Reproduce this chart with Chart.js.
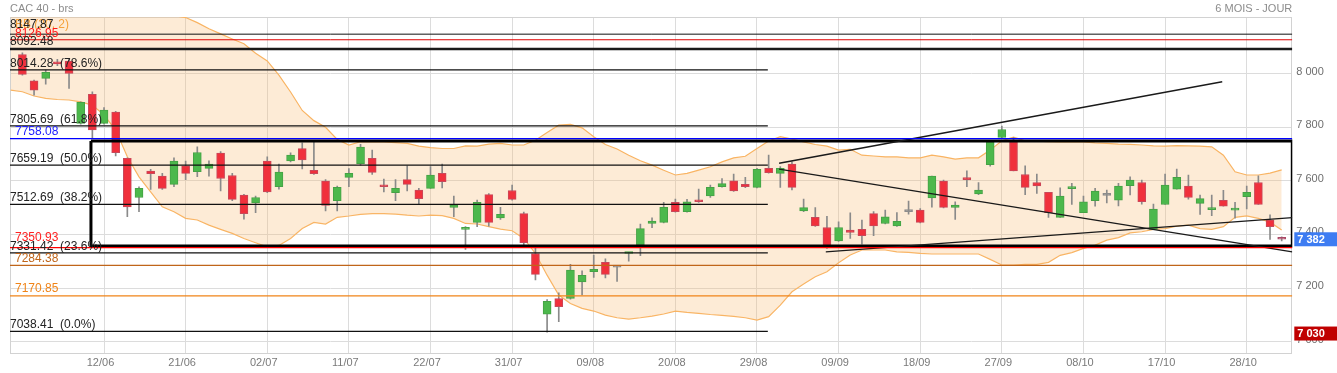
<!DOCTYPE html>
<html><head><meta charset="utf-8">
<script src="https://cdn.jsdelivr.net/npm/chart.js@4.4.1/dist/chart.umd.min.js"></script>
<style>html,body{margin:0;padding:0;background:#fff;}#wrap{position:relative;width:1337px;height:373px;}</style>
</head><body><div id="wrap"><canvas id="c" width="1337" height="373"></canvas></div>
<script>
// ---- data ----
const title = 'CAC 40 - brs';
const period = '6 MOIS - JOUR';
const bbLabel = 'BB (20, 2)';
const tickLabels = ['12/06','21/06','02/07','11/07','22/07','31/07','09/08','20/08','29/08','09/09','18/09','27/09','08/10','17/10','28/10'];
const yTicks = [7000, 7200, 7400, 7600, 7800, 8000];

const opens = [8072,7974,7983,8045,8047,7815,7923,7815,7857,7684, 7538,7637,7618,7587,7656,7634,7647,7704,7620,7547, 7518,7674,7578,7675,7721,7639,7599,7526,7613,7664, 7684,7584,7556,7605,7566,7572,7628,7501,7419,7445, 7549,7462,7564,7478,7329,7102,7161,7161,7223,7261, 7296,7278,7329,7360,7441,7445,7520,7485,7527,7544, 7578,7600,7587,7576,7647,7628,7663,7488,7464,7426, 7376,7416,7419,7478,7441,7432,7485,7491,7536,7599, 7501,7612,7551,7661,7762,7746,7624,7594,7557,7464, 7571,7481,7526,7546,7528,7582,7594,7419,7512,7569, 7581,7516,7493,7527,7491,7541,7594,7454,7386];
const highs = [8078,7976,8014,8054,8058,7895,7933,7874,7860,7686, 7578,7643,7628,7686,7674,7727,7675,7709,7628,7550, 7543,7690,7663,7705,7742,7746,7605,7581,7646,7737, 7715,7607,7605,7656,7572,7653,7663,7543,7429,7528, 7553,7501,7584,7484,7350,7157,7182,7288,7264,7323, 7309,7280,7333,7439,7462,7520,7532,7531,7569,7584, 7609,7625,7613,7647,7696,7653,7671,7532,7500,7468, 7447,7481,7454,7485,7491,7482,7525,7497,7618,7603, 7522,7638,7594,7750,7805,7762,7656,7625,7557,7574, 7591,7543,7572,7566,7591,7615,7603,7513,7625,7644, 7622,7547,7547,7565,7520,7581,7619,7473,7391];
const lows = [7995,7920,7961,8030,7945,7812,7758,7812,7693,7466, 7485,7568,7568,7578,7605,7616,7618,7563,7526,7457, 7481,7556,7569,7671,7645,7624,7488,7488,7578,7659, 7624,7559,7526,7563,7513,7572,7574,7466,7344,7429, 7431,7456,7528,7358,7230,7035,7074,7158,7174,7240, 7238,7225,7300,7321,7425,7443,7483,7483,7520,7538, 7577,7561,7575,7574,7629,7576,7566,7485,7430,7348, 7374,7385,7364,7395,7439,7430,7476,7443,7502,7499, 7456,7578,7549,7655,7760,7637,7549,7553,7464,7464, 7512,7481,7506,7518,7507,7548,7513,7419,7512,7569, 7532,7475,7470,7506,7461,7495,7512,7381,7376];
const closes = [7998,7939,8005,8037,8001,7893,7790,7864,7705,7503, 7572,7627,7572,7674,7628,7706,7663,7609,7531,7478, 7538,7559,7633,7696,7678,7627,7508,7576,7628,7726, 7632,7578,7572,7587,7534,7622,7597,7510,7426,7520, 7445,7475,7531,7369,7251,7150,7130,7267,7247,7270, 7251,7278,7333,7422,7450,7501,7485,7522,7522,7576, 7590,7563,7578,7643,7631,7647,7576,7500,7432,7358, 7426,7408,7395,7432,7466,7449,7485,7445,7618,7501, 7510,7605,7566,7746,7792,7637,7576,7581,7481,7543, 7576,7522,7562,7546,7581,7603,7522,7495,7584,7613, 7538,7534,7497,7506,7497,7557,7512,7429,7382];

// Bollinger bands, first value belongs to the session before the first candle
const bbUpper = [8250,8250,8249,8247,8245,8243,8240,8238,8236,8234, 8232,8230,8226,8222,8217,8210,8191,8168,8149,8130, 8112,8077,8048,7995,7932,7863,7825,7800,7755,7734, 7746,7746,7746,7743,7740,7730,7724,7721,7721,7731, 7730,7737,7740,7734,7734,7752,7781,7808,7811,7798, 7765,7736,7719,7696,7675,7659,7640,7622,7628,7640, 7653,7671,7686,7692,7721,7749,7765,7756,7746,7736, 7730,7715,7718,7696,7693,7690,7690,7686,7686,7696, 7690,7681,7686,7686,7715,7750,7763,7750,7748,7747, 7746,7746,7746,7742,7740,7737,7736,7734,7731,7730, 7732,7731,7730,7727,7696,7634,7622,7622,7629,7641];
const bbLower = [7939,7933,7917,7908,7904,7902,7895,7883,7846,7790, 7690,7615,7559,7503,7485,7460,7454,7435,7419,7404, 7385,7369,7354,7359,7385,7422,7445,7439,7464,7469, 7475,7478,7478,7476,7472,7469,7472,7470,7460,7441, 7439,7429,7420,7414,7385,7329,7248,7174,7142,7124, 7114,7099,7089,7084,7089,7095,7103,7114,7109,7105, 7101,7098,7094,7089,7080,7093,7136,7186,7215,7242, 7261,7294,7323,7342,7342,7342,7335,7333,7329,7327, 7327,7327,7327,7327,7307,7286,7286,7288,7288,7296, 7322,7332,7348,7360,7379,7388,7406,7410,7419,7422, 7431,7435,7422,7419,7429,7464,7469,7460,7446,7417];

const fibLevels = [8014.28, 7805.69, 7659.19, 7512.69, 7331.42, 7038.41];
const fibPercents = ['78.6%', '61.8%', '50.0%', '38.2%', '23.6%', '0.0%'];
const levelValues = [8147.87, 8126.95, 8092.48, 7758.08, 7350.93, 7284.38, 7170.85];
const markerValues = [7382, 7030];
const rectTopBottom = [7749, 7357];
const rectStartIndex = 5.88;
const fibEndIndex = 63.93;
// trend lines: [x1, y1, x2, y2] in session index / index value
const trendLines = [[64.9, 7666, 102.9, 7970], [64.9, 7644, 108.91, 7335], [68.9, 7335, 108.91, 7463]];

// ---- styles ----
const FONT = 'Arial, "Liberation Sans", sans-serif';
const X_MIN = -1.063, X_MAX = 108.91, Y_MIN = 6959.2, Y_MAX = 8212;
const levelStyles = [
  {c:'#111111', w:1,   tc:'#222222', tx:10, dy:-9},
  {c:'#e00000', w:1,   tc:'#ff1a1a', tx:15, dy:-6},
  {c:'#1a1a1a', w:2.6, tc:'#222222', tx:10, dy:-7.7},
  {c:'#0000ff', w:1.2, tc:'#2020ff', tx:15, dy:-6.8},
  {c:'#ff0000', w:1.2, tc:'#ff2020', tx:15, dy:-10},
  {c:'#c0651a', w:1.2, tc:'#c0651a', tx:15, dy:-7},
  {c:'#f08418', w:1.2, tc:'#f08418', tx:15, dy:-7}
];
const markerColors = ['#3d7cf2', '#c00000'];

function candleColor(i) {
  if (i === opens.length - 1) return '#bd5272';
  if (closes[i] === opens[i]) return '#8c8c8c';
  return closes[i] > opens[i] ? '#4cb84c' : '#f0303c';
}
function candleBorder(i) {
  if (i === opens.length - 1) return '#a84a66';
  if (closes[i] === opens[i]) return '#8c8c8c';
  return closes[i] > opens[i] ? '#45a245' : '#c8485a';
}
const fmt = v => String(v).replace(/(\d)(\d{3})$/, '$1 $2');

const datasets = [];
function hLine(v, x1, x2, color, width) {
  datasets.push({type:'line', data:[{x:x1,y:v},{x:x2,y:v}], borderColor:color, borderWidth:width,
    pointRadius:0, tension:0, fill:false, order:0});
}
levelValues.forEach((v, k) => hLine(v, X_MIN, X_MAX, levelStyles[k].c, levelStyles[k].w));
fibLevels.forEach(v => hLine(v, X_MIN, fibEndIndex, '#111111', 1.2));
trendLines.forEach(t => datasets.push({type:'line', data:[{x:t[0],y:t[1]},{x:t[2],y:t[3]}],
  borderColor:'#1a1a1a', borderWidth:1.4, pointRadius:0, tension:0, fill:false, order:0}));
datasets.push({type:'line', data:[
  {x:rectStartIndex,y:rectTopBottom[0]},{x:X_MAX,y:rectTopBottom[0]},{x:X_MAX,y:rectTopBottom[1]},
  {x:rectStartIndex,y:rectTopBottom[1]},{x:rectStartIndex,y:rectTopBottom[0]}],
  borderColor:'#000000', borderWidth:3, pointRadius:0, tension:0, fill:false, order:0, borderJoinStyle:'miter'});

// candles
datasets.push({type:'bar', data: opens.map((o,i)=>({x:i, y:[o, closes[i]]})),
  backgroundColor: opens.map((_,i)=>candleColor(i)), borderColor: opens.map((_,i)=>candleBorder(i)),
  borderWidth:1, borderSkipped:false, grouped:false, barThickness:8, maxBarThickness:8, minBarLength:2, order:1});
datasets.push({type:'bar', data: lows.map((l,i)=>({x:i, y:[l, highs[i]]})),
  backgroundColor:'#8a8a8a', borderWidth:0, borderSkipped:false, grouped:false, barThickness:1, maxBarThickness:1, order:2});

// bollinger
datasets.push({type:'line', data: bbUpper.map((v,k)=>({x:k-1,y:v})), borderColor:'#f9b463', borderWidth:1.2,
  pointRadius:0, tension:0, fill:{target:'+1'}, backgroundColor:'rgba(248,190,120,0.3)', order:3});
datasets.push({type:'line', data: bbLower.map((v,k)=>({x:k-1,y:v})), borderColor:'#f9b463', borderWidth:1.2,
  pointRadius:0, tension:0, fill:false, order:3});

const overlay = {
  id:'overlay',
  beforeDatasetsDraw(chart) {
    const {ctx, chartArea:a} = chart;
    ctx.save(); ctx.strokeStyle = '#d2d2d2'; ctx.lineWidth = 1;
    ctx.strokeRect(Math.round(a.left)+0.5, Math.round(a.top)+0.5, Math.round(a.right-a.left)-1, Math.round(a.bottom-a.top));
    ctx.restore();
  },
  afterDatasetsDraw(chart) {
    const {ctx, chartArea:a} = chart; const ys = chart.scales.y;
    ctx.save();
    ctx.textBaseline = 'middle';
    ctx.font = '11px ' + FONT; ctx.fillStyle = '#8c8c8c';
    ctx.textAlign = 'left'; ctx.fillText(title, 10, 9);
    ctx.textAlign = 'right'; ctx.fillText(period, a.right, 9);
    ctx.textAlign = 'left';
    ctx.font = '12px ' + FONT;
    ctx.fillStyle = '#f5a23c';
    ctx.fillText(bbLabel, 15, ys.getPixelForValue(levelValues[0]) - 9);
    levelValues.forEach((v, k) => {
      const s = levelStyles[k];
      ctx.fillStyle = s.tc;
      ctx.fillText(v.toFixed(2), s.tx, ys.getPixelForValue(v) + s.dy);
    });
    fibLevels.forEach((v, k) => {
      ctx.fillStyle = '#222222';
      ctx.fillText(v.toFixed(2) + '  (' + fibPercents[k] + ')', 10, ys.getPixelForValue(v) - 6.3);
    });
    ctx.font = 'bold 11px ' + FONT;
    markerValues.forEach((v, k) => {
      const py = ys.getPixelForValue(v);
      ctx.fillStyle = markerColors[k];
      ctx.fillRect(a.right + 2, py - 7, chart.width - a.right - 2, 14);
      ctx.fillStyle = '#ffffff';
      ctx.fillText(fmt(v), a.right + 5, py + 0.5);
    });
    ctx.restore();
  }
};

new Chart(document.getElementById('c'), {
  type:'line',
  data:{datasets},
  options:{
    responsive:false, animation:false, devicePixelRatio:1,
    layout:{padding:{left:10, top:17, right:0, bottom:0}},
    plugins:{legend:{display:false}, tooltip:{enabled:false}, title:{display:false}},
    scales:{
      x:{type:'linear', min:X_MIN, max:X_MAX, offset:false,
        grid:{color:'#dcdcdc', drawTicks:false, offset:false}, border:{display:false},
        afterBuildTicks: s => { s.ticks = tickLabels.map((_, k) => ({value: 7 * (k + 1)})); },
        ticks:{autoSkip:false, maxRotation:0, padding:4, labelOffset:-3.5, color:'#7a7a7a',
          font:{size:11, family:FONT}, callback: v => tickLabels[Math.round(v / 7) - 1] || ''},
        afterFit: s => { s.height = 20.5; }},
      y:{type:'linear', position:'right', min:Y_MIN, max:Y_MAX,
        grid:{color:'#dcdcdc', drawTicks:false}, border:{display:false},
        afterBuildTicks: s => { s.ticks = yTicks.map(v => ({value:v})); },
        ticks:{padding:4, labelOffset:-2, color:'#6e6e6e', font:{size:11, family:FONT}, callback: v => fmt(v)},
        afterFit: s => { s.width = 44.7; }}
    }
  },
  plugins:[overlay]
});
</script></body></html>
